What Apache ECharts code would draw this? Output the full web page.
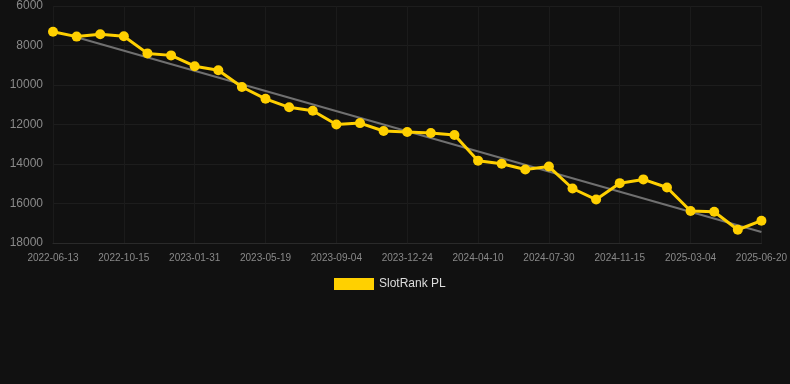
<!DOCTYPE html>
<html>
<head>
<meta charset="utf-8">
<script src="https://cdn.jsdelivr.net/npm/echarts@6/dist/echarts.min.js"></script>
<style>
html,body{margin:0;padding:0;background:#111111;}
#c{width:790px;height:384px;}
</style>
</head>
<body>
<div id="c"></div>
<script>
var categories = [
  '2022-06-13','2022-07-24','2022-09-03','2022-10-15','2022-11-21','2022-12-26',
  '2023-01-31','2023-03-08','2023-04-13','2023-05-19','2023-06-24','2023-07-30',
  '2023-09-04','2023-10-11','2023-11-17','2023-12-24','2024-01-30','2024-03-05',
  '2024-04-10','2024-05-16','2024-06-23','2024-07-30','2024-09-05','2024-10-10',
  '2024-11-15','2024-12-21','2025-01-27','2025-03-04','2025-04-09','2025-05-15',
  '2025-06-20'
];
var rankValues = [
  7300, 7550, 7430, 7530, 8400, 8500, 9050, 9250, 10100, 10700,
  11130, 11300, 12000, 11930, 12330, 12380, 12430, 12530, 13830, 13990,
  14280, 14130, 15240, 15800, 14970, 14780, 15190, 16380, 16420, 17330,
  16870
];
var trendPoints = [['2022-07-24', 7580], ['2025-06-20', 17440]];
var yTicks = [6000, 8000, 10000, 12000, 14000, 16000, 18000];

var chart = echarts.init(document.getElementById('c'), null, {renderer: 'canvas'});
chart.setOption({
  backgroundColor: '#111111',
  animation: false,
  grid: {left: 53, right: 28, top: 6, bottom: 141, containLabel: false},
  legend: {
    data: ['SlotRank PL'],
    top: 276,
    left: 334,
    icon: 'rect',
    itemWidth: 40,
    itemHeight: 12,
    itemGap: 10,
    padding: [2, 0, 2, 0],
    textStyle: {color: '#dddddd', fontSize: 12, fontFamily: 'Liberation Sans, Arial, sans-serif'}
  },
  xAxis: {
    type: 'category',
    data: categories,
    boundaryGap: false,
    axisLine: {show: true, lineStyle: {color: '#2a2a2a'}},
    axisTick: {show: false},
    axisLabel: {interval: 2, color: '#8a8a8a', fontSize: 10, margin: 10, fontFamily: 'Liberation Sans, Arial, sans-serif'},
    splitLine: {show: true, interval: 2, lineStyle: {color: '#1b1b1b', width: 1}}
  },
  yAxis: {
    type: 'value',
    inverse: true,
    min: yTicks[0],
    max: yTicks[yTicks.length - 1],
    interval: 2000,
    axisLine: {show: false},
    axisTick: {show: false},
    axisLabel: {
      color: '#8a8a8a', fontSize: 12, margin: 10,
      fontFamily: 'Liberation Sans, Arial, sans-serif',
      formatter: function (v) { return String(v); }
    },
    splitLine: {show: true, lineStyle: {color: '#1d1d1d', width: 1}}
  },
  series: [
    {
      name: 'Trend',
      type: 'line',
      data: trendPoints,
      symbol: 'none',
      lineStyle: {color: '#707070', width: 2},
      z: 1,
      silent: true
    },
    {
      name: 'SlotRank PL',
      type: 'line',
      data: rankValues,
      symbol: 'circle',
      symbolSize: 10,
      itemStyle: {color: '#ffd000'},
      lineStyle: {color: '#ffd000', width: 3},
      z: 2
    }
  ]
});
</script>
</body>
</html>
